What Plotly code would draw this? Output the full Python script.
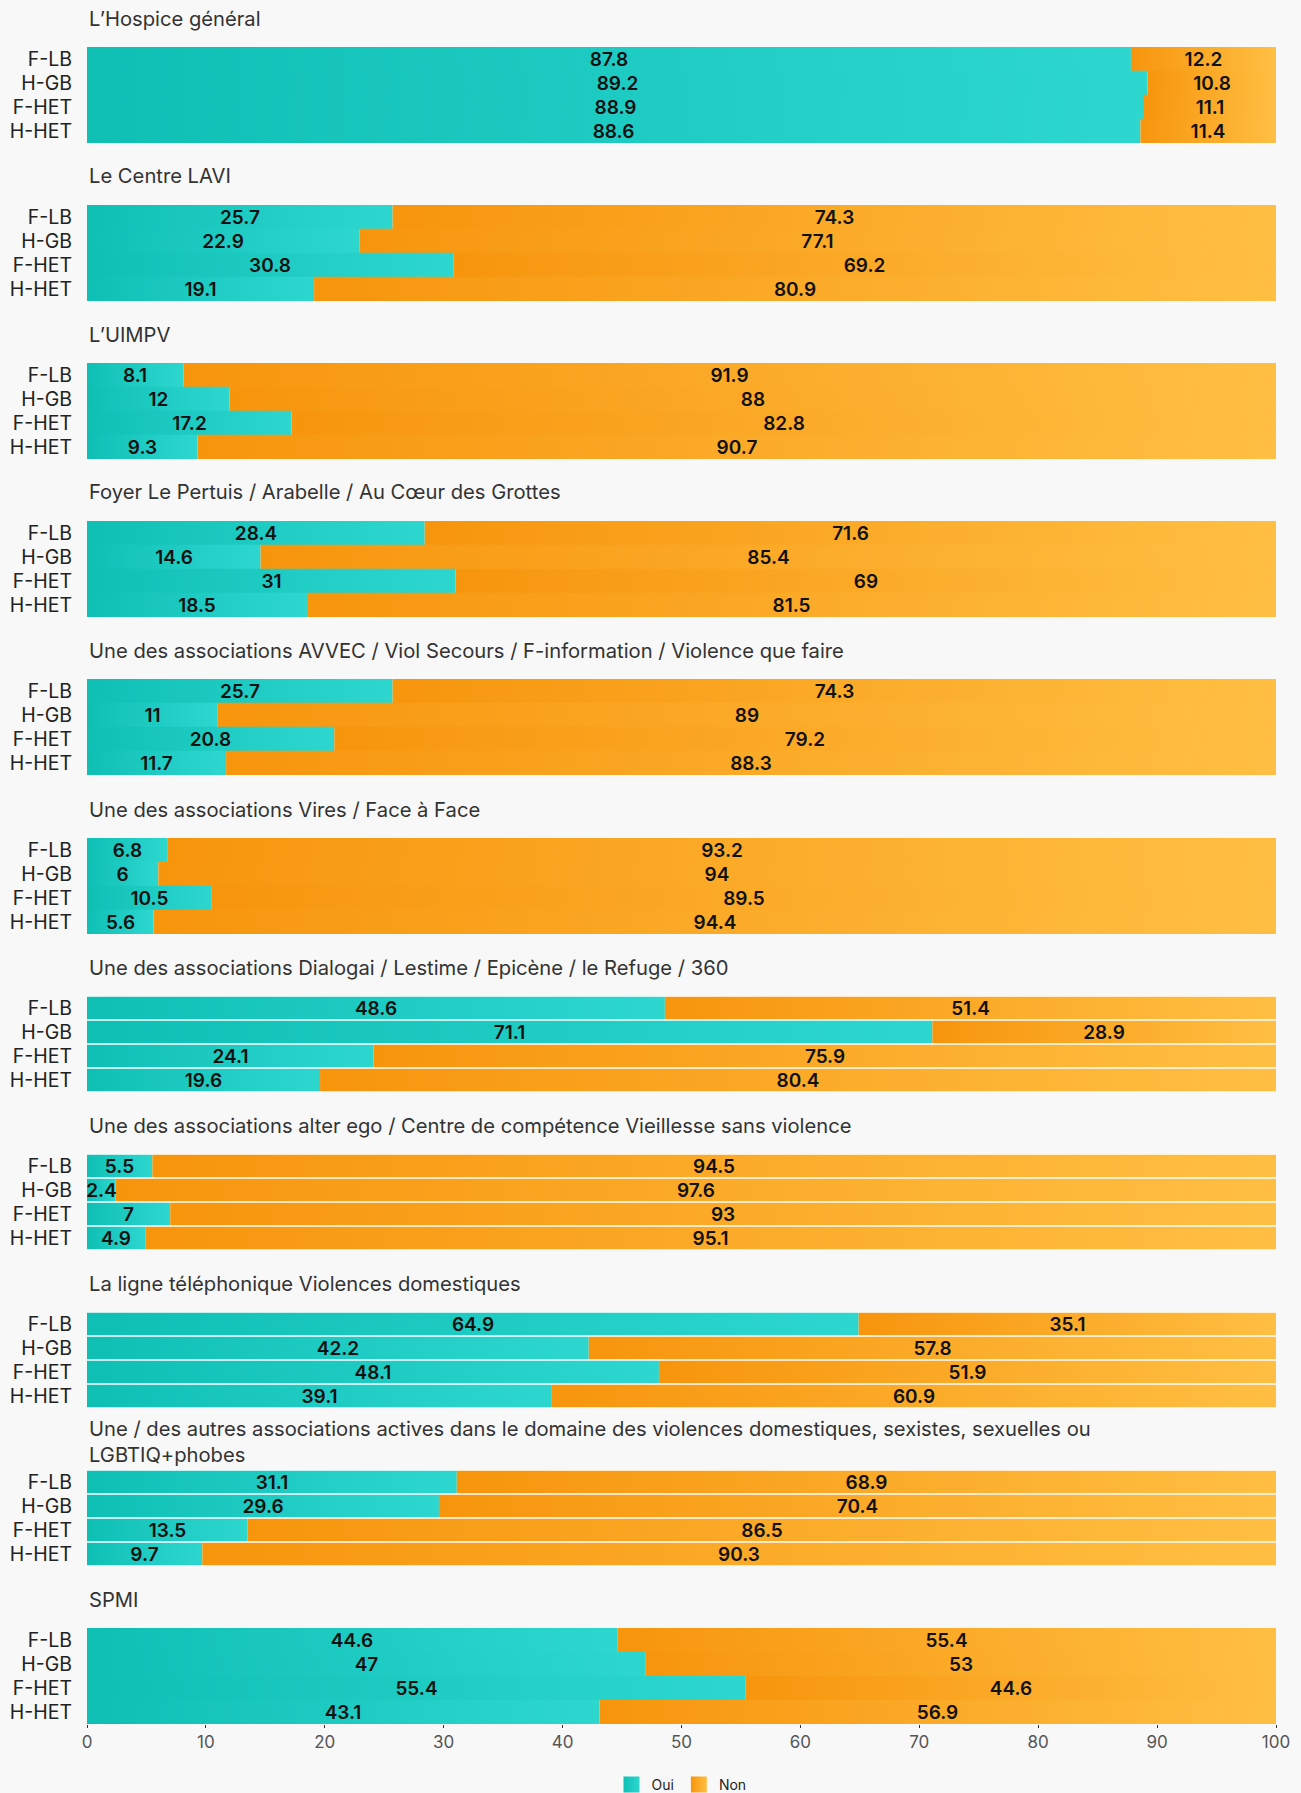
import plotly.graph_objects as go

# ---------------- data ----------------
groups = ["F-LB", "H-GB", "F-HET", "H-HET"]
series_names = ["Oui", "Non"]

titles = [
    "L’Hospice général",
    "Le Centre LAVI",
    "L’UIMPV",
    "Foyer Le Pertuis / Arabelle / Au Cœur des Grottes",
    "Une des associations AVVEC / Viol Secours / F-information / Violence que faire",
    "Une des associations Vires / Face à Face",
    "Une des associations Dialogai / Lestime / Epicène / le Refuge / 360",
    "Une des associations alter ego / Centre de compétence Vieillesse sans violence",
    "La ligne téléphonique Violences domestiques",
    "Une / des autres associations actives dans le domaine des violences domestiques, sexistes, sexuelles ou<br>LGBTIQ+phobes",
    "SPMI",
]

oui_hospice = [87.8, 89.2, 88.9, 88.6]
non_hospice = [12.2, 10.8, 11.1, 11.4]
oui_lavi = [25.7, 22.9, 30.8, 19.1]
non_lavi = [74.3, 77.1, 69.2, 80.9]
oui_uimpv = [8.1, 12, 17.2, 9.3]
non_uimpv = [91.9, 88, 82.8, 90.7]
oui_foyer = [28.4, 14.6, 31, 18.5]
non_foyer = [71.6, 85.4, 69, 81.5]
oui_avvec = [25.7, 11, 20.8, 11.7]
non_avvec = [74.3, 89, 79.2, 88.3]
oui_vires = [6.8, 6, 10.5, 5.6]
non_vires = [93.2, 94, 89.5, 94.4]
oui_dialogai = [48.6, 71.1, 24.1, 19.6]
non_dialogai = [51.4, 28.9, 75.9, 80.4]
oui_alterego = [5.5, 2.4, 7, 4.9]
non_alterego = [94.5, 97.6, 93, 95.1]
oui_ligne = [64.9, 42.2, 48.1, 39.1]
non_ligne = [35.1, 57.8, 51.9, 60.9]
oui_autres = [31.1, 29.6, 13.5, 9.7]
non_autres = [68.9, 70.4, 86.5, 90.3]
oui_spmi = [44.6, 47, 55.4, 43.1]
non_spmi = [55.4, 53, 44.6, 56.9]

oui_values = [oui_hospice, oui_lavi, oui_uimpv, oui_foyer, oui_avvec, oui_vires,
              oui_dialogai, oui_alterego, oui_ligne, oui_autres, oui_spmi]
non_values = [non_hospice, non_lavi, non_uimpv, non_foyer, non_avvec, non_vires,
              non_dialogai, non_alterego, non_ligne, non_autres, non_spmi]

x_ticks = [0, 10, 20, 30, 40, 50, 60, 70, 80, 90, 100]

# ---------------- style / layout ----------------
W, H = 1301, 1793
ML, MR = 87, 25
TEAL = ("#0fbfb4", "#2dd7d0")
ORANGE = ("#f7950d", "#ffbf43")
BG = "#f8f8f8"
FONT = "Inter, Liberation Sans, Arial, sans-serif"
separated = [False] * 6 + [True] * 4 + [False]

top0 = 47.0
step = 158.1
ph = 96
title_gap = 29.0

n = len(titles)
fig = go.Figure()

for i in range(n):
    k = "" if i == 0 else str(i + 1)
    ko = str(i + 1 + n)
    w = 0.94 if separated[i] else 1.0
    # slight overlap for touching rows so no anti-aliasing seams appear
    half = w / 2 if separated[i] else 0.515

    # gradient-filled segments (visual fill of each stacked bar piece)
    for j, g in enumerate(groups):
        start = 0.0
        for vals, cols in ((oui_values[i], TEAL), (non_values[i], ORANGE)):
            v = vals[j]
            x0, x1 = start, start + v
            yc = groups.index(g)
            y_lo = max(yc - half, -0.5)
            y_hi = min(yc + half, len(groups) - 0.5)
            fig.add_trace(go.Scatter(
                x=[x0, x1, x1, x0, x0],
                y=[y_lo, y_lo, y_hi, y_hi, y_lo],
                mode="lines", fill="toself", line=dict(width=0, color=cols[1]),
                fillcolor=cols[0],
                fillgradient=dict(type="horizontal", colorscale=[[0, cols[0]], [1, cols[1]]]),
                hoverinfo="skip", showlegend=False, xaxis="x" + k, yaxis="y" + k,
            ))
            start = x1

    # the stacked bars themselves (transparent, carrying labels & hover) on an overlay axis pair
    common = dict(
        y=groups, orientation="h", xaxis="x" + ko, yaxis="y" + ko,
        texttemplate="%{x}", textposition="inside", insidetextanchor="middle",
        textangle=0, constraintext="none", cliponaxis=False, width=w,
        textfont=dict(family=FONT, size=19, color="#111", weight=600),
        hovertemplate="%{y}: %{x}<extra>%{fullData.name}</extra>",
        showlegend=False,
    )
    fig.add_trace(go.Bar(x=oui_values[i], name="Oui",
                         marker=dict(color="rgba(0,0,0,0)", line=dict(width=0)), **common))
    fig.add_trace(go.Bar(x=non_values[i], name="Non",
                         marker=dict(color="rgba(0,0,0,0)", line=dict(width=0)), **common))

    top = round(top0 + i * step)
    bot = top + ph
    last = i == n - 1
    fig.layout["xaxis" + k] = dict(
        domain=[0, 1], range=[0, 100], anchor="y" + k, showgrid=False, zeroline=False,
        showline=False, fixedrange=True,
        showticklabels=last, ticks="outside" if last else "", ticklen=3, tickwidth=1,
        tickcolor="#333", tickvals=x_ticks,
        tickfont=dict(family=FONT, size=17, color="#555"),
    )
    fig.layout["yaxis" + k] = dict(
        domain=[1 - bot / H, 1 - top / H], anchor="x" + k,
        tickvals=list(range(len(groups))), ticktext=groups, range=[3.5, -0.5],
        showgrid=False, zeroline=False, showline=False, fixedrange=True,
        ticks="", ticklabelstandoff=14,
        tickfont=dict(family=FONT, size=19.5, color="#222"),
    )
    fig.layout["xaxis" + ko] = dict(
        overlaying="x" + k, anchor="y" + ko, range=[0, 100], visible=False, fixedrange=True,
    )
    fig.layout["yaxis" + ko] = dict(
        overlaying="y" + k, anchor="x" + ko, type="category", categoryorder="array",
        categoryarray=groups, range=[3.5, -0.5], visible=False, fixedrange=True,
    )
    fig.add_annotation(
        text=titles[i], xref="paper", yref="paper", x=0, y=1 - (top - title_gap) / H,
        xanchor="left", yanchor="middle", align="left", showarrow=False,
        font=dict(family=FONT, size=20.2, color="#333"),
    )

# legend entries (no data, legend swatches only)
for name, cols in zip(series_names, (TEAL, ORANGE)):
    fig.add_trace(go.Scatter(
        x=[None], y=[None], mode="markers", name=name,
        marker=dict(symbol="square", size=26, color=cols[0],
                    gradient=dict(type="horizontal", color=cols[1]), line=dict(width=0)),
        xaxis="x", yaxis="y", hoverinfo="skip",
    ))

fig.update_layout(
    width=W, height=H, barmode="stack", bargap=0,
    margin=dict(l=ML, r=MR, t=0, b=0, autoexpand=False),
    paper_bgcolor=BG, plot_bgcolor="#ffffff",
    font=dict(family=FONT, color="#222"),
    showlegend=True,
    legend=dict(orientation="h", x=0.5, xanchor="center", y=-8 / H, yanchor="bottom",
                font=dict(family=FONT, size=14, color="#222"), traceorder="normal",
                itemsizing="trace", bgcolor="rgba(0,0,0,0)"),
)

fig.write_html(
    "out.html",
    config={"displayModeBar": False},
    post_script="document.body.style.margin='0';document.body.style.background='#f8f8f8';",
)
